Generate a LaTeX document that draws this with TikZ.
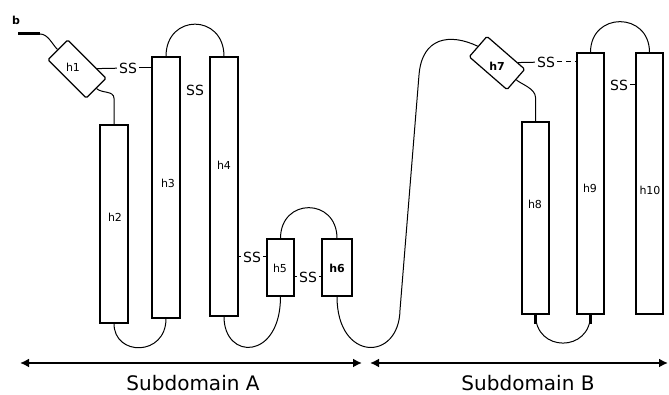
\documentclass[tikz,border=0pt]{standalone}
\usepackage{fontspec}
\setmainfont{DejaVu Sans}
\usetikzlibrary{arrows.meta}
\begin{document}
\begin{tikzpicture}[x=1pt,y=1pt,
  helix/.style={draw, rectangle, inner sep=0pt, line width=1.2pt},
  lab/.style={font=\fontsize{11}{13}\selectfont, inner sep=0pt},
  blab/.style={font=\fontsize{11}{13}\selectfont\bfseries, inner sep=0pt},
  ss/.style={font=\fontsize{14}{16}\selectfont, inner sep=2pt},
  conn/.style={line width=1pt},
  dom/.style={line width=2.5pt, {Latex[length=9pt,width=9pt]}-{Latex[length=9pt,width=9pt]}},
  domlab/.style={font=\fontsize{20}{24}\selectfont, inner sep=0pt}
]
\useasboundingbox (0,0) rectangle (669,395);

% helices
\node[helix, minimum width=28pt, minimum height=198pt] (h2) at (114,171) {};
\node[helix, minimum width=28pt, minimum height=261pt] (h3) at (166,207.5) {};
\node[helix, minimum width=28pt, minimum height=259pt] (h4) at (224,208.5) {};
\node[helix, minimum width=27pt, minimum height=57pt] (h5) at (280.5,127.5) {};
\node[helix, minimum width=30pt, minimum height=57pt] (h6) at (337,127.5) {};
\node[helix, minimum width=27pt, minimum height=192pt] (h8) at (535.5,177) {};
\node[helix, minimum width=27pt, minimum height=261pt] (h9) at (590.5,211.5) {};
\node[helix, minimum width=27pt, minimum height=261pt] (h10) at (649.5,211.5) {};
\node[helix, rounded corners=1.5pt, rotate=-45, minimum width=54pt, minimum height=28pt] (h1) at (77,326) {};
\node[helix, rounded corners=1.5pt, rotate=-41, minimum width=50pt, minimum height=27pt] (h7) at (497,332) {};

% labels
\node[lab] (lh1) at (73,328) {h1};
\node[lab] (lh2) at (115,178) {h2};
\node[lab] (lh3) at (168,212) {h3};
\node[lab] (lh4) at (224,230) {h4};
\node[lab] (lh5) at (280,127) {h5};
\node[blab] (lh6) at (337,127) {h6};
\node[blab] (lh7) at (497,329) {h7};
\node[lab] (lh8) at (535,191) {h8};
\node[lab] (lh9) at (590,207) {h9};
\node[lab] (lh10) at (650,205) {h10};
\node[blab] (nb) at (16,375) {b};

% disulfide labels
\node[ss] (ss1) at (128,327) {SS};
\node[ss] (ss2) at (195,305) {SS};
\node[ss] (ss3) at (252,138) {SS};
\node[ss] (ss4) at (308,118) {SS};
\node[ss] (ss5) at (546,333) {SS};
\node[ss] (ss6) at (619,310) {SS};

\draw[conn] (h1) -- (ss1);
\draw[conn] (ss1) -- (ss1 -| h3.west);
\draw[conn] (ss3 -| h4.east) -- (ss3);
\draw[conn] (ss3) -- (ss3 -| h5.west);
\draw[conn] (ss4 -| h5.east) -- (ss4);
\draw[conn] (ss4) -- (ss4 -| h6.west);
\draw[conn] (h7) -- (ss5);
\draw[conn, dash pattern=on 5pt off 4pt] (ss5) -- (ss5 -| h9.west);
\draw[conn] (ss6) -- (ss6 -| h10.west);

% loops
\coordinate (nt) at (18,361);
\draw[line width=3pt] (nt) -- ++(22,0) coordinate (nt2);
\draw[conn] (nt2) .. controls (48,361) and (52,351) .. (h1.west);
\draw[conn] (h2.north) -- ++(0,26) .. controls +(0,8) and +(5,-5) .. (h1.east);
\draw[conn] (h2.south) .. controls +(0,-33) and +(0,-38) .. (h3.south);
\draw[conn] (h3.north) .. controls +(0,43) and +(0,43) .. (h4.north);
\draw[conn] (h4.south) .. controls +(0,-44) and +(0,-64) .. (h5.south);
\draw[conn] (h5.north) .. controls +(0,41) and +(0,41) .. (h6.north);
\draw[conn] (h6.south) .. controls (337,33) and (399,33) .. (400,85) -- (419,320) .. controls (422,358) and (450,362) .. (h7.west);
\draw[conn] (h8.north) -- ++(0,24) .. controls +(0,9) and +(4,-4) .. (h7.east);
\draw[conn] (h8.south) .. controls +(0,-38) and +(0,-38) .. (h9.south);
\draw[line width=2.5pt] (h8.south) -- ++(0,-9);
\draw[line width=2.5pt] (h9.south) -- ++(0,-9);
\draw[conn] (h9.north) .. controls +(0,41) and +(0,41) .. (h10.north);

% subdomains
\coordinate (a1) at (20,32);
\coordinate (a2) at (362,32);
\coordinate (b1) at (370,32);
\coordinate (b2) at (668,32);
\draw[dom] (a1) -- (a2);
\draw[dom] (b1) -- (b2);
\node[domlab] (sa) at (193,12) {Subdomain A};
\node[domlab] (sb) at (528,12) {Subdomain B};
\end{tikzpicture}
\end{document}
